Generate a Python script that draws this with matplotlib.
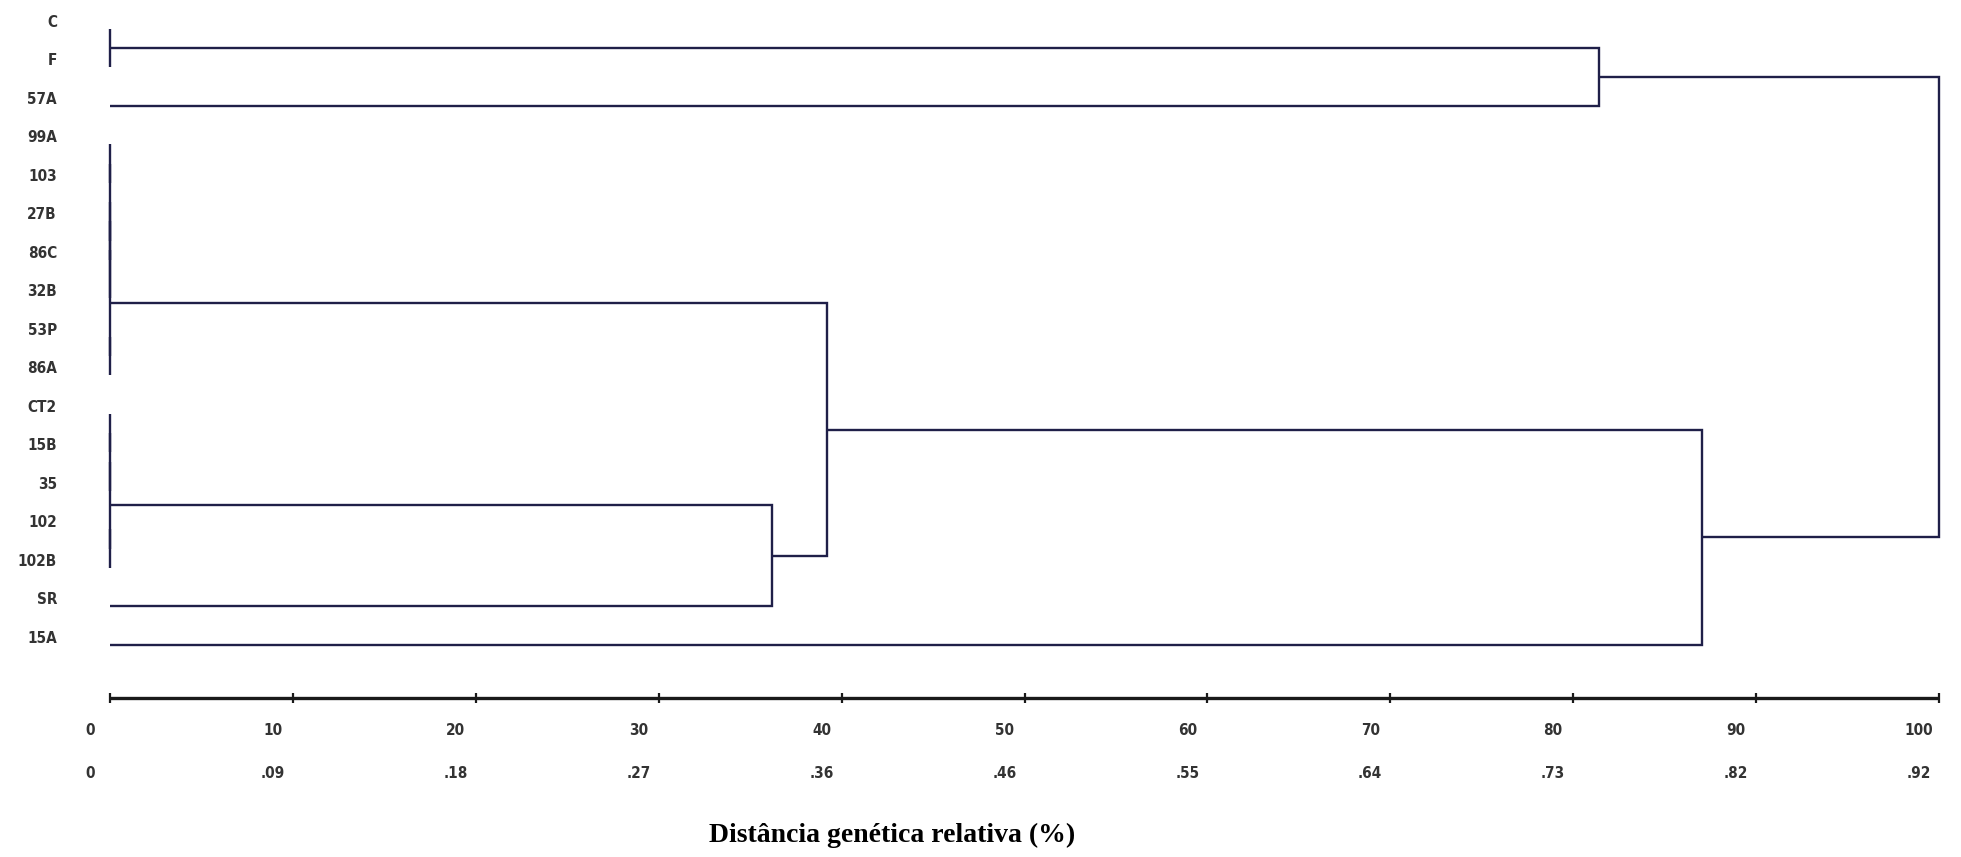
import matplotlib.pyplot as plt

# leaf order, top to bottom
leaves = ["C", "F", "57A", "99A", "103", "27B", "86C", "32B", "53P", "86A",
          "CT2", "15B", "35", "102", "102B", "SR", "15A"]

# merges in linkage order: ids < len(leaves) are leaves, others are earlier merges
merge_left = [0, 3, 5, 18, 20, 8, 21, 10, 24, 13, 25, 27, 23, 17, 29, 30]
merge_right = [1, 4, 6, 19, 7, 9, 22, 11, 12, 14, 26, 15, 28, 2, 16, 31]
merge_dist = [0, 0, 0, 0, 0, 0, 0, 0, 0, 0, 0, 36.2, 39.2, 81.4, 87.05, 100]

scale_ticks = [0, 10, 20, 30, 40, 50, 60, 70, 80, 90, 100]
scale_labels = [".09", ".18", ".27", ".36", ".46", ".55", ".64", ".73", ".82", ".92"]
scale_labels = ["0"] + scale_labels

line_color = "#1f1f48"
text_color = "#333333"
label_font = dict(family=["DejaVu Sans"], stretch="condensed", fontweight="bold",
                  fontsize=11, color=text_color)

fig = plt.figure(figsize=(19.61, 8.57), dpi=100)
ax = fig.add_axes([0, 0, 1, 1])
ax.set_xlim(-6.014, 101.2)
ax.set_ylim(21.51, -0.753)
ax.axis("off")

# positions of leaves and nodes: (distance, row)
pos = {i: (0.0, float(i)) for i in range(len(leaves))}
n = len(leaves)
for k, (a, b, d) in enumerate(zip(merge_left, merge_right, merge_dist)):
    xa, ya = pos[a]
    xb, yb = pos[b]
    ax.plot([xa, d, d, xb], [ya, ya, yb, yb], color=line_color, lw=1.7,
            solid_joinstyle="miter", solid_capstyle="butt")
    pos[n + k] = (d, (ya + yb) / 2)

# leaf names
for i, name in enumerate(leaves):
    ax.text(-2.9, i - 0.17, name, ha="right", va="center", **label_font)

# distance scale
bar_y = 17.38
ax.plot([scale_ticks[0], scale_ticks[-1]], [bar_y, bar_y], color="#1a1a1a", lw=2.4,
        solid_capstyle="butt")
ax.vlines(scale_ticks, bar_y - 0.12, bar_y + 0.12, color="#1a1a1a", lw=1.6)
for t, lab in zip(scale_ticks, scale_labels):
    ax.text(t - 1.1, 18.23, str(t), ha="center", va="center", **label_font)
    ax.text(t - 1.1, 19.35, lab, ha="center", va="center", **label_font)

fig.text(0.455, 1 - 835 / 857, "Distância genética relativa (%)", ha="center",
         va="center", fontsize=20, fontweight="bold",
         family=["Liberation Serif", "DejaVu Serif"])

fig.savefig("out.png", dpi=100)
